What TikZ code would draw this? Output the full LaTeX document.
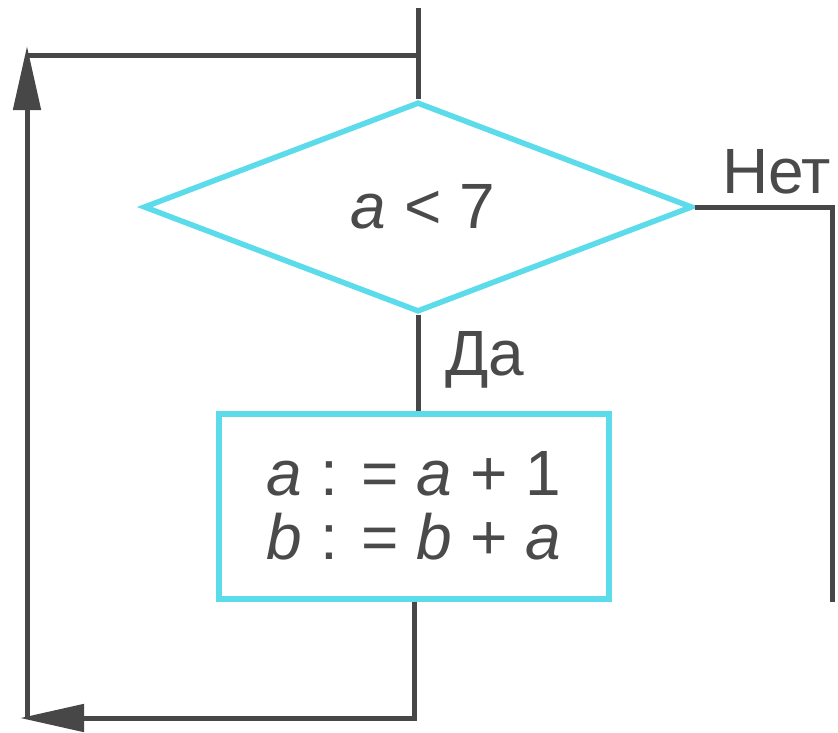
\documentclass[tikz,border=0pt]{standalone}
\usepackage{fontspec}
\setmainfont{Liberation Sans}
\usetikzlibrary{shapes.geometric,arrows.meta}
\definecolor{ink}{HTML}{474747}
\definecolor{txt}{HTML}{4A4A4A}
\definecolor{cyanline}{HTML}{5CDCEA}
\tikzset{
  conn/.style={draw=ink, line width=5pt},
  arrowconn/.style={conn, -{Triangle[length=64pt,width=27pt]}},
  decision/.style={diamond, draw=cyanline, line width=5.5pt, minimum width=549pt, minimum height=210pt, inner sep=0pt, text=txt},
  process/.style={rectangle, draw=cyanline, line width=6pt, minimum width=390pt, minimum height=185pt, inner sep=0pt, align=center, text=txt},
  lbl/.style={text=txt, inner sep=0pt}
}
\begin{document}
\begin{tikzpicture}[x=1pt,y=-1pt]
\fontsize{64}{67}\selectfont
\useasboundingbox (0,0) rectangle (838,732);
\node[decision] (cond) at (418,207) {\hspace*{10pt}\textit{a} < 7};
\node[process] (proc) at (414,506) {\textit{a} : = \textit{a} + 1\\[-3pt]\textit{b} : = \textit{b} + \textit{a}};
\coordinate (top) at (418,8);
\coordinate (tl) at (27,55);
\coordinate (tip) at (27,46);
\coordinate (bl) at (20,718);
\coordinate (blc) at (27,718);
\coordinate (rend) at (832,602);
% top entry
\draw[conn] (cond.north |- top) -- (cond.north);
% loop back join
\draw[conn] (tl) -- (cond.north |- tl);
% yes branch
\draw[conn] (cond.south) -- (cond.south |- proc.north);
% loop back
\draw[arrowconn] (proc.south) |- (bl);
\draw[arrowconn] (blc) -- (tip);
% no branch
\draw[conn] (cond.east) -| (rend);
% labels
\node[lbl, anchor=base west] (no) at (722,193) {Нет};
\node[lbl, anchor=base west] (yes) at (445,375) {Да};
\end{tikzpicture}
\end{document}
